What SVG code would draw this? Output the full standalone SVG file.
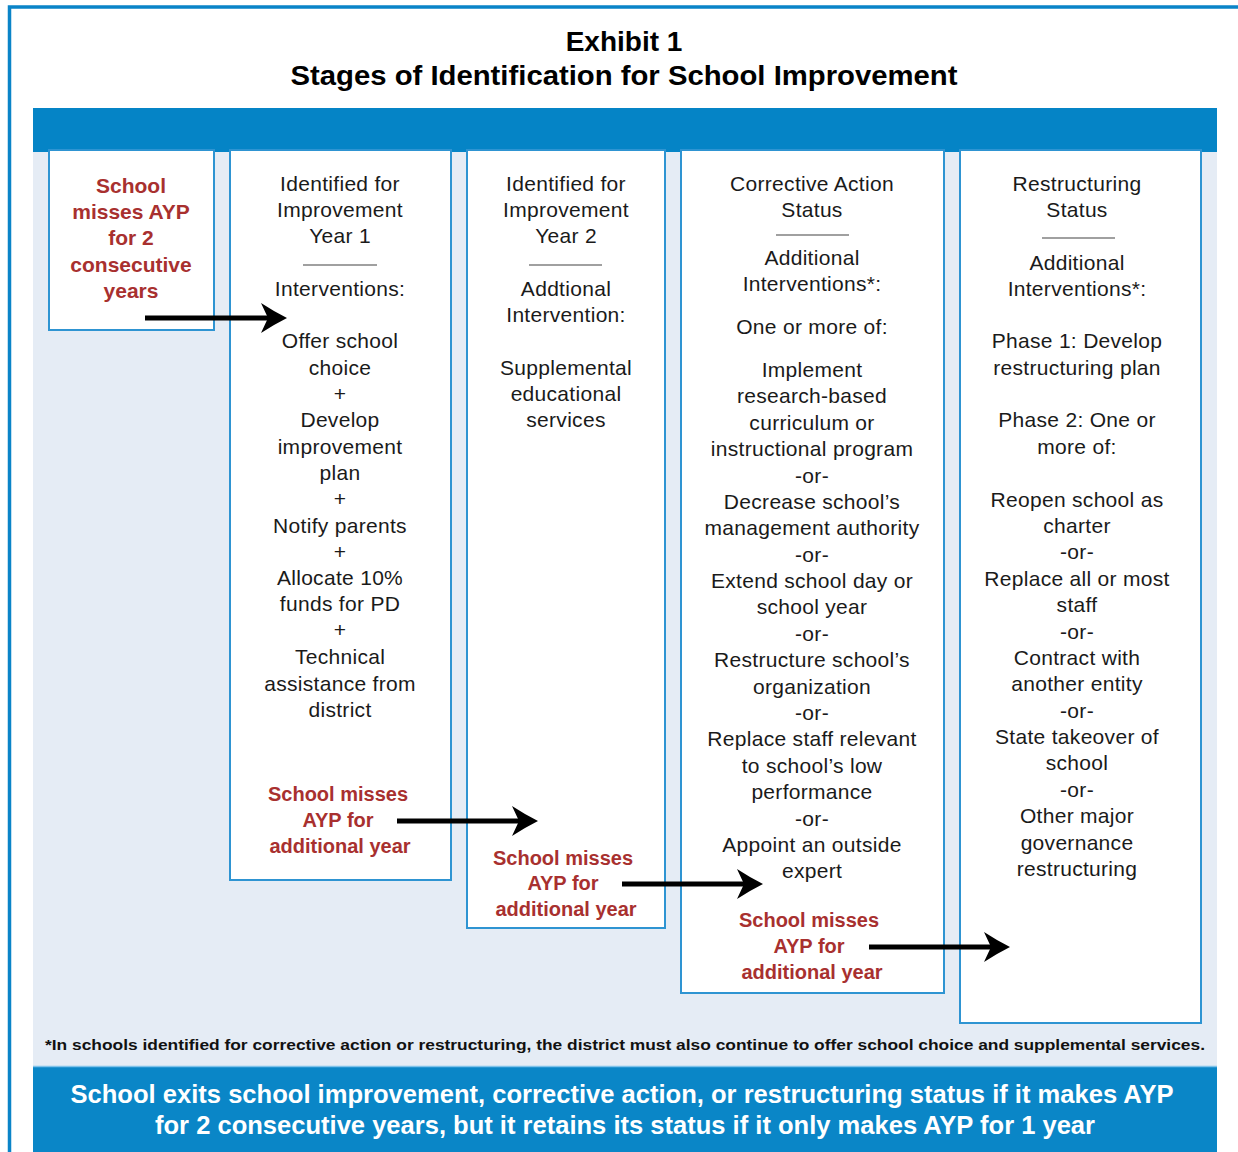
<svg xmlns="http://www.w3.org/2000/svg" width="1238" height="1152" viewBox="0 0 1238 1152">
<style>
.box{fill:#ffffff;stroke:#2e94d2;stroke-width:2}
.div{stroke:#a0a0a0;stroke-width:2}
.t{font-family:"Liberation Sans",Arial,sans-serif;font-size:21px;fill:#1a1a1a;text-anchor:middle;letter-spacing:0.3px}
.r{font-family:"Liberation Sans",Arial,sans-serif;font-size:20px;font-weight:bold;fill:#a8302f;text-anchor:middle}
.title{font-family:"Liberation Sans",Arial,sans-serif;font-size:28px;font-weight:bold;fill:#000;text-anchor:middle}
.foot{font-family:"Liberation Sans",Arial,sans-serif;font-size:15px;font-weight:bold;fill:#111}
.bot{font-family:"Liberation Sans",Arial,sans-serif;font-size:25px;font-weight:bold;fill:#ffffff;text-anchor:middle}
.arr{stroke:#000;stroke-width:5;fill:none}
</style>
<defs>
<marker id="ah" markerUnits="userSpaceOnUse" viewBox="0 0 27 32" refX="12" refY="16" markerWidth="27" markerHeight="32" orient="auto">
<path d="M27,16 Q14,9.5 1,1 L8,16 L1,31 Q14,22.5 27,16 Z" fill="#000"/>
</marker>
</defs>
<rect x="0" y="0" width="1238" height="1152" fill="#ffffff"/>
<path d="M9.5,1152 V7 H1238" fill="none" stroke="#0a84c8" stroke-width="3.5"/>
<g id="title">
<text class="title" x="624" y="51">Exhibit 1</text>
<text class="title" x="624" y="85" textLength="667" lengthAdjust="spacingAndGlyphs">Stages of Identification for School Improvement</text>
</g>
<rect x="33" y="108" width="1184" height="1044" fill="#e5ecf5"/>
<rect x="33" y="108" width="1184" height="44" fill="#0584c6"/>
<g id="node-start">
<rect class="box" x="49" y="150" width="165" height="180"/>
<text class="r" style="font-size:21px" x="131" y="193">School</text>
<text class="r" style="font-size:21px" x="131" y="219">misses AYP</text>
<text class="r" style="font-size:21px" x="131" y="245">for 2</text>
<text class="r" style="font-size:21px" x="131" y="272">consecutive</text>
<text class="r" style="font-size:21px" x="131" y="298">years</text>
</g>
<g id="node-year1">
<rect class="box" x="230" y="150" width="221" height="730"/>
<text class="t" x="340" y="191">Identified for</text>
<text class="t" x="340" y="217">Improvement</text>
<text class="t" x="340" y="243">Year 1</text>
<line class="div" x1="303" y1="265" x2="377" y2="265"/>
<text class="t" x="340" y="296">Interventions:</text>
<text class="t" x="340" y="348">Offer school</text>
<text class="t" x="340" y="375">choice</text>
<text class="t" x="340" y="401">+</text>
<text class="t" x="340" y="427">Develop</text>
<text class="t" x="340" y="454">improvement</text>
<text class="t" x="340" y="480">plan</text>
<text class="t" x="340" y="506">+</text>
<text class="t" x="340" y="533">Notify parents</text>
<text class="t" x="340" y="559">+</text>
<text class="t" x="340" y="585">Allocate 10%</text>
<text class="t" x="340" y="611">funds for PD</text>
<text class="t" x="340" y="637">+</text>
<text class="t" x="340" y="664">Technical</text>
<text class="t" x="340" y="691">assistance from</text>
<text class="t" x="340" y="717">district</text>
<text class="r" x="338" y="801">School misses</text>
<text class="r" x="338" y="827">AYP for</text>
<text class="r" x="340" y="853">additional year</text>
</g>
<g id="node-year2">
<rect class="box" x="467" y="150" width="198" height="778"/>
<text class="t" x="566" y="191">Identified for</text>
<text class="t" x="566" y="217">Improvement</text>
<text class="t" x="566" y="243">Year 2</text>
<line class="div" x1="529" y1="265" x2="602" y2="265"/>
<text class="t" x="566" y="296">Addtional</text>
<text class="t" x="566" y="322">Intervention:</text>
<text class="t" x="566" y="375">Supplemental</text>
<text class="t" x="566" y="401">educational</text>
<text class="t" x="566" y="427">services</text>
<text class="r" x="563" y="865">School misses</text>
<text class="r" x="563" y="890">AYP for</text>
<text class="r" x="566" y="916">additional year</text>
</g>
<g id="node-corrective">
<rect class="box" x="681" y="150" width="263" height="843"/>
<text class="t" x="812" y="191">Corrective Action</text>
<text class="t" x="812" y="217">Status</text>
<line class="div" x1="776" y1="235" x2="849" y2="235"/>
<text class="t" x="812" y="265">Additional</text>
<text class="t" x="812" y="291">Interventions*:</text>
<text class="t" x="812" y="334">One or more of:</text>
<text class="t" x="812" y="377">Implement</text>
<text class="t" x="812" y="403">research-based</text>
<text class="t" x="812" y="430">curriculum or</text>
<text class="t" x="812" y="456">instructional program</text>
<text class="t" x="812" y="483">-or-</text>
<text class="t" x="812" y="509">Decrease school’s</text>
<text class="t" x="812" y="535">management authority</text>
<text class="t" x="812" y="562">-or-</text>
<text class="t" x="812" y="588">Extend school day or</text>
<text class="t" x="812" y="614">school year</text>
<text class="t" x="812" y="641">-or-</text>
<text class="t" x="812" y="667">Restructure school’s</text>
<text class="t" x="812" y="694">organization</text>
<text class="t" x="812" y="720">-or-</text>
<text class="t" x="812" y="746">Replace staff relevant</text>
<text class="t" x="812" y="773">to school’s low</text>
<text class="t" x="812" y="799">performance</text>
<text class="t" x="812" y="826">-or-</text>
<text class="t" x="812" y="852">Appoint an outside</text>
<text class="t" x="812" y="878">expert</text>
<text class="r" x="809" y="927">School misses</text>
<text class="r" x="809" y="953">AYP for</text>
<text class="r" x="812" y="979">additional year</text>
</g>
<g id="node-restructuring">
<rect class="box" x="960" y="150" width="241" height="873"/>
<text class="t" x="1077" y="191">Restructuring</text>
<text class="t" x="1077" y="217">Status</text>
<line class="div" x1="1042" y1="238" x2="1115" y2="238"/>
<text class="t" x="1077" y="270">Additional</text>
<text class="t" x="1077" y="296">Interventions*:</text>
<text class="t" x="1077" y="348">Phase 1: Develop</text>
<text class="t" x="1077" y="375">restructuring plan</text>
<text class="t" x="1077" y="427">Phase 2: One or</text>
<text class="t" x="1077" y="454">more of:</text>
<text class="t" x="1077" y="507">Reopen school as</text>
<text class="t" x="1077" y="533">charter</text>
<text class="t" x="1077" y="559">-or-</text>
<text class="t" x="1077" y="586">Replace all or most</text>
<text class="t" x="1077" y="612">staff</text>
<text class="t" x="1077" y="639">-or-</text>
<text class="t" x="1077" y="665">Contract with</text>
<text class="t" x="1077" y="691">another entity</text>
<text class="t" x="1077" y="718">-or-</text>
<text class="t" x="1077" y="744">State takeover of</text>
<text class="t" x="1077" y="770">school</text>
<text class="t" x="1077" y="797">-or-</text>
<text class="t" x="1077" y="823">Other major</text>
<text class="t" x="1077" y="850">governance</text>
<text class="t" x="1077" y="876">restructuring</text>
</g>
<g id="connectors">
<line class="arr" x1="145" y1="318" x2="272" y2="318" marker-end="url(#ah)"/>
<line class="arr" x1="397" y1="821" x2="523" y2="821" marker-end="url(#ah)"/>
<line class="arr" x1="622" y1="884" x2="748" y2="884" marker-end="url(#ah)"/>
<line class="arr" x1="869" y1="947" x2="995" y2="947" marker-end="url(#ah)"/>
</g>
<g id="footnote">
<text class="foot" x="45" y="1050" textLength="1160" lengthAdjust="spacingAndGlyphs">*In schools identified for corrective action or restructuring, the district must also continue to offer school choice and supplemental services.</text>
</g>
<g id="bottom-bar">
<rect x="33" y="1066" width="1184" height="86" fill="#0a86c7"/>
<line x1="33" y1="1066.5" x2="1217" y2="1066.5" stroke="#7fc2ea" stroke-width="1.5"/>
<text class="bot" x="622" y="1103" textLength="1103" lengthAdjust="spacingAndGlyphs">School exits school improvement, corrective action, or restructuring status if it makes AYP</text>
<text class="bot" x="625" y="1134" textLength="940" lengthAdjust="spacingAndGlyphs">for 2 consecutive years, but it retains its status if it only makes AYP for 1 year</text>
</g>
</svg>
